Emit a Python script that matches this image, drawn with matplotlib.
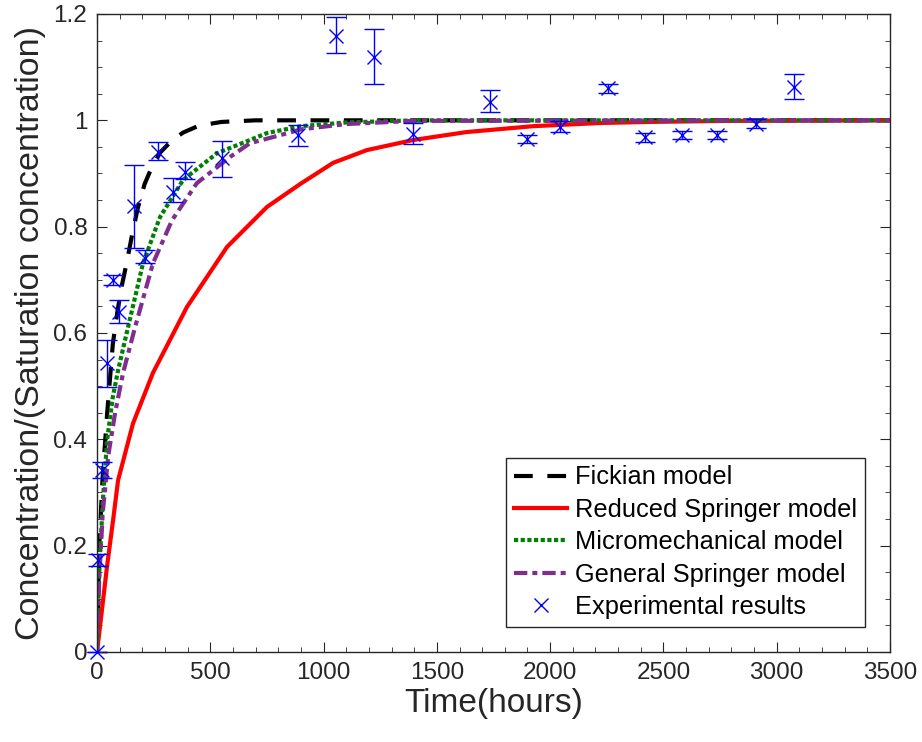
import numpy as np
import matplotlib
matplotlib.use("Agg")
import matplotlib.pyplot as plt
from matplotlib.ticker import MultipleLocator
from matplotlib.lines import Line2D

plt.rcParams['font.family'] = ['Liberation Sans', 'DejaVu Sans']

# model curves
t_fick = [0, 10, 25, 45, 70, 90, 110, 130, 155, 180, 210, 240, 280, 330, 380, 450, 550, 700, 1000, 3500]
c_fick = [0, 0.20, 0.33, 0.45, 0.58, 0.64, 0.69, 0.73, 0.785, 0.835, 0.88, 0.91, 0.94, 0.962, 0.977, 0.99, 0.997, 1.0, 1.0, 1.0]

t_red = [0, 13, 44, 71, 93, 159, 247, 397, 574, 750, 896, 1042, 1191, 1396, 1632, 1925, 2220, 2440, 2800, 3500]
c_red = [0, 0.047, 0.16, 0.248, 0.323, 0.43, 0.525, 0.649, 0.762, 0.837, 0.88, 0.92, 0.944, 0.963, 0.978, 0.989, 0.995, 0.997, 0.999, 1.0]

t_micro = [0, 10, 25, 45, 70, 93, 137, 203, 278, 380, 529, 675, 750, 900, 1100, 1400, 3500]
c_micro = [0, 0.15, 0.28, 0.40, 0.48, 0.53, 0.611, 0.731, 0.818, 0.888, 0.938, 0.963, 0.976, 0.989, 0.996, 1.0, 1.0]

t_gen = [0, 10, 25, 50, 80, 115, 168, 247, 331, 441, 587, 675, 808, 900, 1100, 1400, 3500]
c_gen = [0, 0.14, 0.26, 0.37, 0.45, 0.525, 0.611, 0.731, 0.812, 0.882, 0.931, 0.957, 0.972, 0.983, 0.993, 0.999, 1.0]

# experimental results
t_exp = [0, 5, 22, 44, 71, 97, 163, 212, 269, 335, 388, 551, 888, 1055, 1222, 1396, 1734, 1897, 2043, 2256, 2418, 2581, 2736, 2908, 3076]
c_exp = [0, 0.173, 0.342, 0.543, 0.700, 0.639, 0.839, 0.741, 0.940, 0.865, 0.903, 0.929, 0.972, 1.158, 1.119, 0.974, 1.035, 0.965, 0.988, 1.060, 0.968, 0.972, 0.972, 0.994, 1.063]
err_lo = [0, 0.012, 0.015, 0.045, 0.010, 0.020, 0.079, 0.010, 0.015, 0.019, 0.013, 0.036, 0.020, 0.031, 0.051, 0.019, 0.019, 0.008, 0.010, 0.008, 0.008, 0.008, 0.008, 0.008, 0.023]
err_hi = [0, 0.012, 0.015, 0.044, 0.010, 0.023, 0.077, 0.015, 0.019, 0.026, 0.019, 0.032, 0.019, 0.036, 0.053, 0.021, 0.022, 0.008, 0.010, 0.008, 0.008, 0.008, 0.008, 0.008, 0.024]

labels = ['Fickian model', 'Reduced Springer model', 'Micromechanical model',
          'General Springer model', 'Experimental results']

fig = plt.figure(figsize=(9.22, 7.42), dpi=100)
ax = fig.add_axes([97/922, 1-652/742, (890-97)/922, (652-14)/742])

l1, = ax.plot(t_fick, c_fick, color='black', lw=3, dashes=(4.5, 3.5))
l2, = ax.plot(t_red, c_red, color='red', lw=3)
l3, = ax.plot(t_micro, c_micro, color='#008000', lw=3, dashes=(1, 0.6))
l4, = ax.plot(t_gen, c_gen, color='#7E2F8E', lw=3, dashes=(3.2, 1.2, 1.2, 1.2))
eb = ax.errorbar(t_exp, c_exp, yerr=[err_lo, err_hi], fmt='x', color='blue', ms=10, mew=1,
                 elinewidth=1, capsize=7, capthick=1)
# markers at t=0 sit on the axes, don't clip them
for art in (eb.lines[0],) + tuple(eb.lines[1]) + tuple(eb.lines[2]):
    art.set_clip_on(False)
eb.lines[0].set_zorder(5)
l5 = Line2D([], [], ls='none', marker='x', color='blue', ms=10, mew=1)

ax.set_xlim(0, 3500)
ax.set_ylim(0, 1.2)
ax.xaxis.set_major_locator(MultipleLocator(500))
ax.xaxis.set_minor_locator(MultipleLocator(100))
ax.yaxis.set_minor_locator(MultipleLocator(0.05))
ax.set_yticks([0, 0.2, 0.4, 0.6, 0.8, 1, 1.2])
ax.set_yticklabels(['0', '0.2', '0.4', '0.6', '0.8', '1', '1.2'])

ax.tick_params(which='both', direction='in', top=True, right=True, colors='#262626', labelsize=17.5)
ax.tick_params(which='major', length=7, pad=7)
ax.tick_params(which='minor', length=3.5)
for s in ax.spines.values():
    s.set_color('#262626')
    s.set_linewidth(1)

ax.set_xlabel('Time(hours)', fontsize=24, color='#262626', labelpad=3)
ax.set_ylabel('Concentration/(Saturation concentration)', fontsize=24.5, color='#262626', labelpad=5)

leg = ax.legend([l1, l2, l3, l4, l5], labels,
                loc='lower right', fontsize=18.3, fancybox=False, framealpha=1,
                edgecolor='#262626', handlelength=2.1, labelspacing=0.33, borderpad=0.3,
                handletextpad=0.3, borderaxespad=1.0)
leg.get_frame().set_linewidth(1)

fig.savefig('out.png', dpi=100)
